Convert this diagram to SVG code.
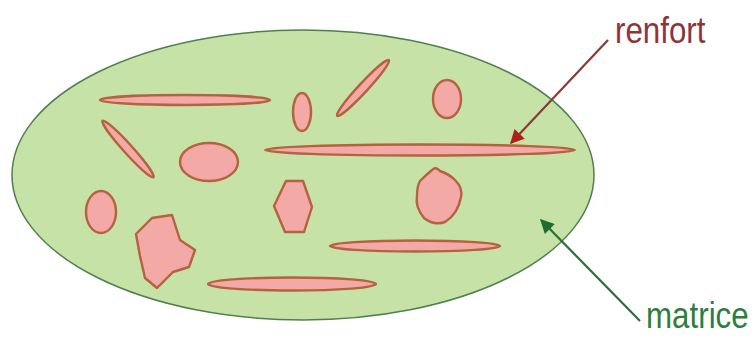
<svg xmlns="http://www.w3.org/2000/svg" width="756" height="338" viewBox="0 0 756 338">
<defs>
<style>
.mat{fill:#c6e2a6;stroke:#4f7f4f;stroke-width:1.5}
.inc{fill:#f3a9a6;stroke:#b4623f;stroke-width:2.4;stroke-linejoin:round}
.lbl{font-family:"Liberation Sans",Arial,sans-serif;font-size:36px}
</style>
<marker id="ahR" viewBox="0 0 10 10" refX="9" refY="5" markerWidth="16" markerHeight="14" orient="auto" markerUnits="userSpaceOnUse">
<path d="M0,0 L10,5 L0,10 z" fill="#b01f1f"/>
</marker>
<marker id="ahG" viewBox="0 0 10 10" refX="9" refY="5" markerWidth="16" markerHeight="14" orient="auto" markerUnits="userSpaceOnUse">
<path d="M0,0 L10,5 L0,10 z" fill="#1f6e2f"/>
</marker>
</defs>
<rect width="756" height="338" fill="#ffffff"/>
<g id="matrice-body">
<ellipse class="mat" cx="303" cy="175" rx="291" ry="145"/>
</g>
<g id="renforts">
<ellipse class="inc" cx="185" cy="100" rx="85" ry="5"/>
<ellipse class="inc" cx="302" cy="112" rx="9" ry="19"/>
<ellipse class="inc" cx="0" cy="0" rx="38" ry="4.5" transform="translate(363,88) rotate(-47)"/>
<ellipse class="inc" cx="447" cy="99" rx="14" ry="19"/>
<ellipse class="inc" cx="420" cy="150" rx="155" ry="5.5"/>
<ellipse class="inc" cx="0" cy="0" rx="38" ry="4.5" transform="translate(128,149) rotate(48)"/>
<ellipse class="inc" cx="209" cy="162" rx="29" ry="19"/>
<ellipse class="inc" cx="101" cy="212" rx="15" ry="21"/>
<path class="inc" d="M286,181 L303,181 L312,207 L304,232 L285,232 L274,206 Z"/>
<path class="inc" d="M136,234 L152,218 L172,215 L180,240 L195,250 L189,267 L173,272 L157,288 L145,278 L140,256 Z"/>
<path class="inc" d="M432,170 Q436,166 440,171 Q449,174 455,180 Q463,188 461,197 Q458,214 445,222 Q434,226 424,218 Q415,207 417,196 Q417,186 420,181 Q426,175 432,170 Z"/>
<ellipse class="inc" cx="415" cy="246" rx="85" ry="5.5"/>
<ellipse class="inc" cx="292" cy="284" rx="84" ry="6.5"/>
</g>
<g id="connectors">
<line x1="608" y1="40" x2="511" y2="143" stroke="#8b3a36" stroke-width="2.2" marker-end="url(#ahR)"/>
<line x1="640" y1="321" x2="541" y2="220" stroke="#2e6e3a" stroke-width="2.2" marker-end="url(#ahG)"/>
</g>
<g id="label-renfort">
<text class="lbl" transform="translate(615,43) scale(0.87,1)" fill="#8e3535">renfort</text>
</g>
<g id="label-matrice">
<text class="lbl" transform="translate(646,328) scale(0.87,1)" fill="#2e7d3e">matrice</text>
</g>
</svg>
